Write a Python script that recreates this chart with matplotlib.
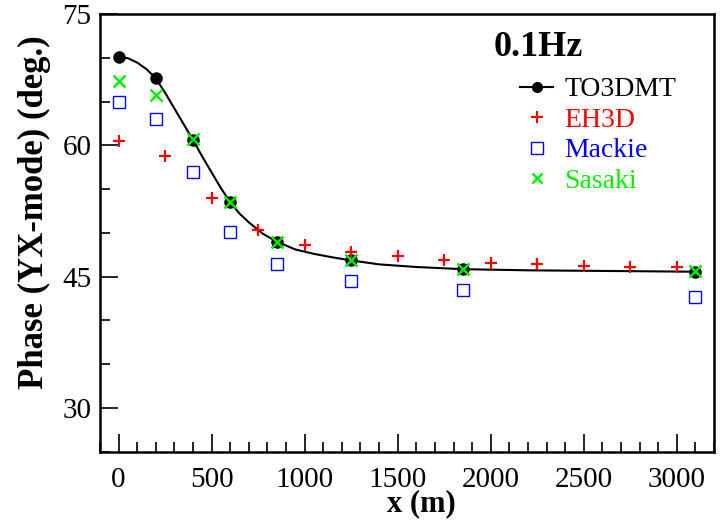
import matplotlib
matplotlib.use("Agg")
import matplotlib.pyplot as plt
from matplotlib.ticker import MultipleLocator
from matplotlib.lines import Line2D

plt.rcParams['font.family'] = ['Liberation Serif', 'DejaVu Serif']

# --- data ---
curve_x = [0, 50, 100, 150, 200, 250, 300, 350, 400, 450, 500, 550, 600, 650,
           700, 775, 850, 950, 1050, 1150, 1250, 1400, 1600, 1850, 2200, 2600, 3100]
curve_y = [70.1, 69.95, 69.45, 68.7, 67.65, 66.0, 64.2, 62.4, 60.6, 58.7, 56.9,
           55.1, 53.5, 52.2, 51.2, 49.9, 49.0, 48.1, 47.6, 47.2, 46.85, 46.4,
           46.1, 45.85, 45.72, 45.65, 45.56]

site_x = [0, 200, 400, 600, 850, 1250, 1850, 3100]
to3dmt_y = [70.1, 67.65, 60.6, 53.5, 49.0, 46.85, 45.85, 45.56]
mackie_y = [65.0, 63.0, 57.0, 50.1, 46.4, 44.5, 43.5, 42.7]
sasaki_y = [67.3, 65.75, 60.7, 53.5, 49.0, 46.85, 45.9, 45.6]

eh3d_x = [0, 250, 500, 750, 1000, 1250, 1500, 1750, 2000, 2250, 2500, 2750, 3000]
eh3d_y = [60.5, 58.8, 54.0, 50.35, 48.6, 47.85, 47.3, 46.9, 46.6, 46.4, 46.25,
          46.13, 46.06]

series_names = ["TO3DMT", "EH3D", "Mackie", "Sasaki"]
series_colors = ["black", "#ff0000", "#0000ff", "#00ee00"]
title_text = "0.1Hz"
x_label = "x (m)"
y_label = "Phase (YX-mode) (deg.)"
x_ticks = [0, 500, 1000, 1500, 2000, 2500, 3000]
y_ticks = [30, 45, 60, 75]

fig = plt.figure(figsize=(7.22, 5.23), dpi=100)
ax = fig.add_axes([100/722, 1 - 451.7/523, 614/722, 437.7/523])

ax.plot(curve_x, curve_y, color="black", lw=1.5, zorder=2)
ax.plot(site_x, to3dmt_y, ls="none", marker="o", ms=8, color="black", zorder=3)
ax.plot(eh3d_x, eh3d_y, ls="none", marker="+", ms=9, mew=1.6,
        color=series_colors[1], zorder=4)
ax.plot(site_x, mackie_y, ls="none", marker="s", ms=9, mew=1.0, mfc="none",
        mec=series_colors[2], zorder=4)
ax.plot(site_x, sasaki_y, ls="none", marker="x", ms=8, mew=1.8,
        color=series_colors[3], zorder=5)

ax.set_xlim(-100, 3200)
ax.set_ylim(25, 75)
ax.set_xticks(x_ticks)
ax.set_yticks(y_ticks)
ax.xaxis.set_minor_locator(MultipleLocator(100))
ax.yaxis.set_minor_locator(MultipleLocator(5))
ax.tick_params(which="both", direction="in", top=False, right=False,
               width=1.2, labelsize=21)
ax.tick_params(which="major", length=13)
ax.tick_params(which="minor", length=7)
ax.tick_params(axis="x", which="major", pad=11)
ax.tick_params(axis="y", which="major", pad=6)
for s in ax.spines.values():
    s.set_linewidth(1.8)

ax.set_xlabel(x_label, fontsize=22, fontweight="bold")
ax.set_ylabel(y_label, fontsize=25, fontweight="bold")
ax.xaxis.set_label_coords((421.7 - 100) / 614, -(489 - 451.7) / 437.7)
ax.yaxis.set_label_coords(-(100 - 51) / 614, (451.7 - 212) / 437.7)

ax.text((538 - 100) / 614, (451.7 - 48) / 437.7, title_text, transform=ax.transAxes,
        ha="center", va="center", fontsize=26, fontweight="bold")

handles = [
    Line2D([], [], color="black", lw=1.5, marker="o", ms=7),
    Line2D([], [], ls="none", color=series_colors[1], marker="+", ms=8, mew=1.6),
    Line2D([], [], ls="none", mec=series_colors[2], mfc="none", marker="s", ms=8, mew=1.0),
    Line2D([], [], ls="none", color=series_colors[3], marker="x", ms=7, mew=1.8),
]
leg = ax.legend(handles, series_names, loc="upper left",
                bbox_to_anchor=((520 - 100) / 614, (451.7 - 77) / 437.7),
                frameon=False, fontsize=20, handlelength=1.2, handletextpad=0.4,
                labelspacing=0.18, borderpad=0, borderaxespad=0,
                labelcolor=series_colors)

fig.savefig("out.png", dpi=100)
